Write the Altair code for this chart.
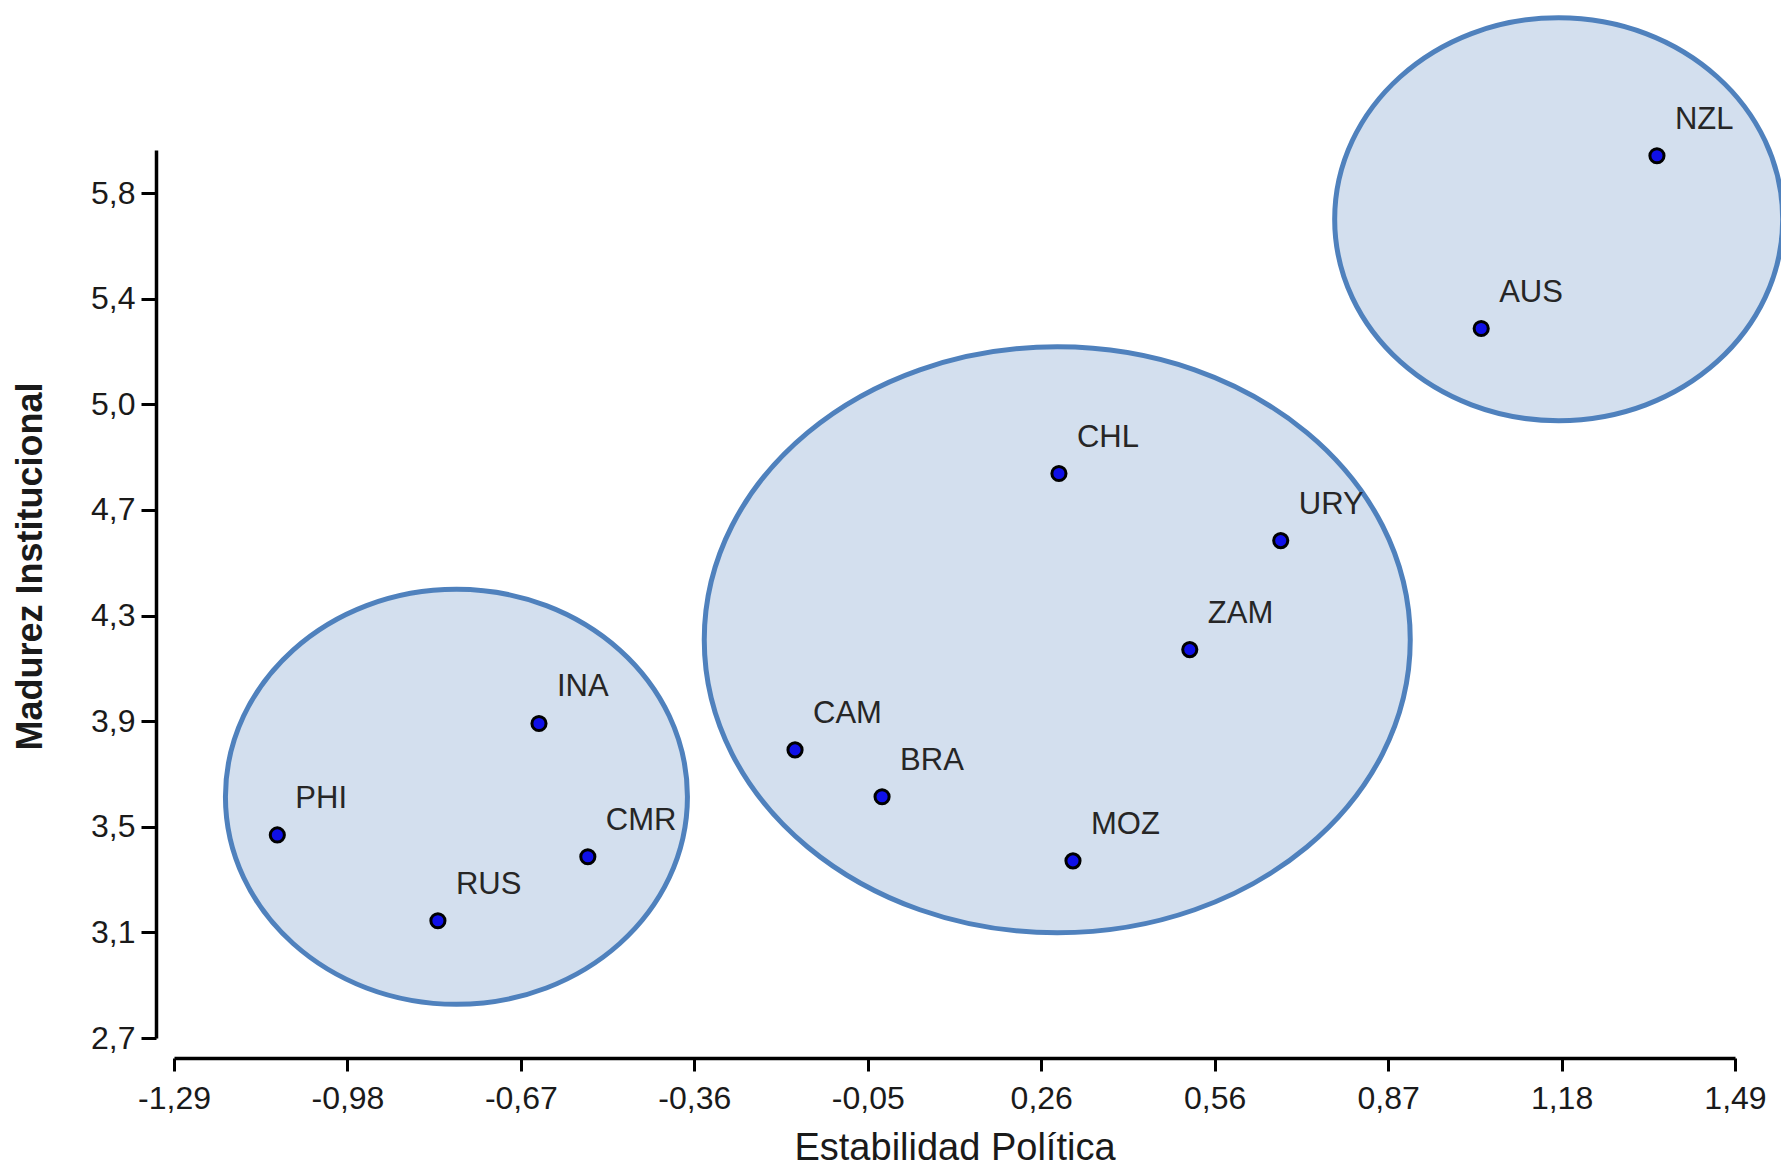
import json
import altair as alt
import pandas as pd

# --- data ---
countries = ["PHI", "RUS", "INA", "CMR", "CAM", "BRA", "CHL", "MOZ", "ZAM", "URY", "AUS", "NZL"]
estabilidad = [-1.106, -0.820, -0.640, -0.553, -0.184, -0.029, 0.286, 0.311, 0.519, 0.681, 1.038, 1.351]
madurez = [3.445, 3.130, 3.854, 3.365, 3.757, 3.585, 4.771, 3.350, 4.125, 4.525, 5.303, 5.937]

# cluster ellipses (centres in data units)
cluster_x = [-0.787, 0.283, 1.176]
cluster_y = [3.585, 4.161, 5.704]
cluster_w_px = [462, 706, 448]   # drawn width (style)
cluster_h_px = [415, 586, 403]   # drawn height (style)

x_tick_labels = ["-1,29", "-0,98", "-0,67", "-0,36", "-0,05", "0,26", "0,56", "0,87", "1,18", "1,49"]
y_tick_labels = ["2,7", "3,1", "3,5", "3,9", "4,3", "4,7", "5,0", "5,4", "5,8"]

X_MIN, X_MAX = -1.29, 1.49
Y_MIN, Y_STEP, Y_TOP = 2.7, 0.3875, 5.958
x_step = (X_MAX - X_MIN) / (len(x_tick_labels) - 1)
x_ticks = [X_MIN + i * x_step for i in range(len(x_tick_labels))]
y_ticks = [Y_MIN + i * Y_STEP for i in range(len(y_tick_labels))]

x_label_expr = f"{json.dumps(x_tick_labels)}[round((datum.value - ({X_MIN})) / {x_step})]"
y_label_expr = f"{json.dumps(y_tick_labels)}[round((datum.value - ({Y_MIN})) / {Y_STEP})]"

FONT = "Liberation Sans"

df = pd.DataFrame({"pais": countries, "x": estabilidad, "y": madurez})

x_enc = alt.X(
    "x:Q",
    scale=alt.Scale(domain=[X_MIN, X_MAX], nice=False, zero=False),
    axis=alt.Axis(
        title="Estabilidad Política",
        values=x_ticks,
        labelExpr=x_label_expr,
        labelFlush=False,
        offset=20,
        tickSize=13,
        labelPadding=12,
        titlePadding=15,
        titleFontSize=38,
    ),
)
y_enc = alt.Y(
    "y:Q",
    scale=alt.Scale(domain=[Y_MIN, Y_TOP], nice=False, zero=False),
    axis=alt.Axis(
        title="Madurez Institucional",
        values=y_ticks,
        labelExpr=y_label_expr,
        labelFlush=False,
        offset=18,
        tickSize=15,
        labelPadding=6,
        titlePadding=41,
        titleFontWeight="bold",
        titleFontSize=36,
        titleY=416,
    ),
)

layers = []
for cx, cy, w, h in zip(cluster_x, cluster_y, cluster_w_px, cluster_h_px):
    r = h / w
    path = f"M -1 0 A 1 {r:.4f} 0 1 1 1 0 A 1 {r:.4f} 0 1 1 -1 0 Z"
    edf = pd.DataFrame({"x": [cx], "y": [cy]})
    layers.append(
        alt.Chart(edf)
        .mark_point(
            shape=path,
            size=w * w,
            filled=True,
            fill="#d3dfee",
            fillOpacity=1,
            stroke="#4f81bd",
            strokeWidth=5,
            opacity=1,
        )
        .encode(x=x_enc, y=y_enc)
    )

points = (
    alt.Chart(df)
    .mark_circle(size=200, fill="#1010e8", stroke="black", strokeWidth=3, opacity=1)
    .encode(x=x_enc, y=y_enc)
)

labels = (
    alt.Chart(df)
    .mark_text(
        align="left",
        baseline="alphabetic",
        dx=18,
        dy=-27,
        fontSize=31,
        font=FONT,
        color="#262626",
    )
    .encode(x=x_enc, y=y_enc, text="pais:N")
)

chart = (
    alt.layer(*layers, points, labels)
    .properties(
        width=1561,
        height=888,
        autosize=alt.AutoSizeParams(type="none"),
        padding={"left": 166, "top": 142, "right": 46, "bottom": 130},
        background="white",
    )
    .configure_view(stroke=None)
    .configure_axis(
        grid=False,
        domainColor="black",
        domainWidth=3.5,
        tickColor="black",
        tickWidth=3,
        labelFont=FONT,
        labelFontSize=32,
        labelColor="#1a1a1a",
        titleFont=FONT,
        titleFontWeight="normal",
        titleColor="#1a1a1a",
    )
)

chart.save("out.html", embed_options={"renderer": "svg", "actions": False})
